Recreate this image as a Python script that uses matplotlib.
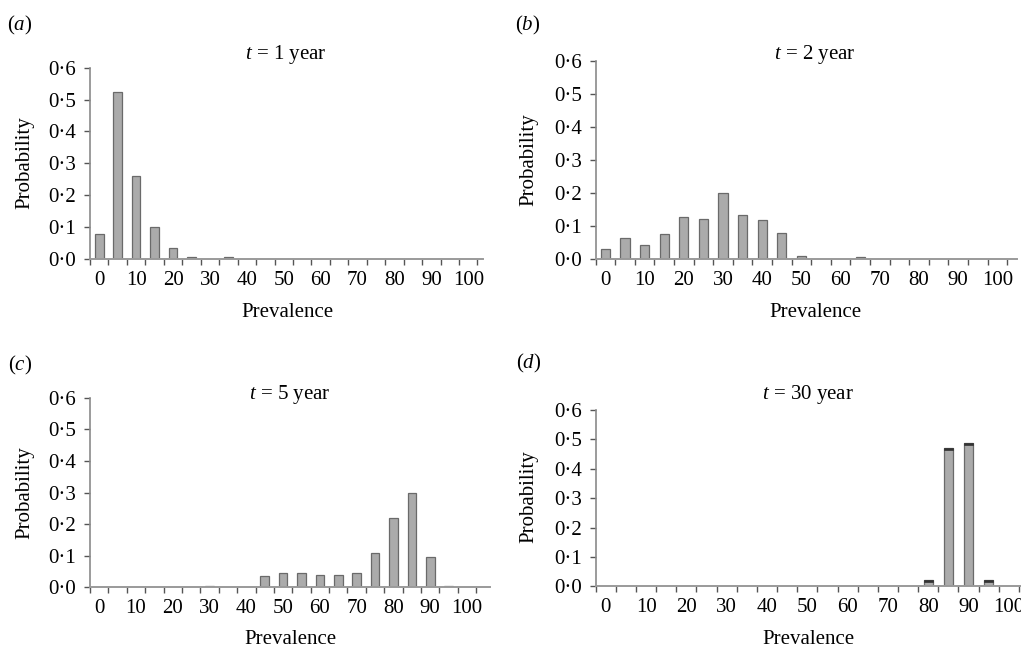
import matplotlib
matplotlib.use("Agg")
import matplotlib.pyplot as plt
import numpy as np

plt.rcParams['font.family'] = ['Liberation Serif', 'DejaVu Serif']
plt.rcParams['mathtext.fontset'] = 'custom'
plt.rcParams['mathtext.it'] = 'Liberation Serif:italic'
plt.rcParams['mathtext.rm'] = 'Liberation Serif'

prevalence = list(range(0, 105, 5))
prob_1yr = [0.077, 0.525, 0.26, 0.1, 0.033, 0.006, 0, 0.006, 0, 0, 0,
            0, 0, 0, 0, 0, 0, 0, 0, 0, 0]
prob_2yr = [0.03, 0.065, 0.043, 0.075, 0.127, 0.122, 0.2, 0.132, 0.118, 0.079, 0.01,
            0, 0, 0.005, 0, 0, 0, 0, 0, 0, 0]
prob_5yr = [0, 0, 0, 0, 0, 0, 0.005, 0, 0, 0.035, 0.045,
            0.045, 0.04, 0.04, 0.045, 0.108, 0.22, 0.3, 0.095, 0.005, 0]
prob_30yr = [0, 0, 0, 0, 0, 0, 0, 0, 0, 0, 0,
             0, 0, 0, 0, 0, 0.022, 0.47, 0.487, 0.022, 0]
yticks = [0, 0.1, 0.2, 0.3, 0.4, 0.5, 0.6]

W, H = 1021, 651
fig = plt.figure(figsize=(W / 100, H / 100), dpi=100)


def px_axes(left, top, right, bottom):
    return fig.add_axes([left / W, 1 - bottom / H, (right - left) / W, (bottom - top) / H])


# (values, label, title, axes box in px, x-limits, title pos, ylabel pos, xlabel pos, tag pos)
panels = [
    (prob_1yr, 'a', '1', (90, 67.7, 483, 259), (-0.45, 20.8), (286, 55), (25, 163), (287, 313), (20, 25)),
    (prob_2yr, 'b', '2', (595.7, 61, 1017, 259), (-0.47, 21.0), (815, 55), (529, 160), (815, 313), (528, 25)),
    (prob_5yr, 'c', '5', (90, 397.7, 490, 587.3), (-0.45, 21.25), (290, 395), (25, 493), (290, 640), (20, 365)),
    (prob_30yr, 'd', '30', (595.7, 410, 1026, 586.3), (-0.47, 20.85), (808, 395), (529, 497), (808, 640), (529, 363)),
]

for vals, tag, yr, box, xl, tpos, ylpos, xlpos, tagpos in panels:
    ax = px_axes(*box)
    x = np.arange(len(prevalence))
    v = np.array(vals)
    nz = v > 0
    ax.bar(x[nz], v[nz], width=0.47, color='#ababab', edgecolor='#6a6a6a', linewidth=0.9, zorder=2)
    if tag == 'd':
        # dark caps on top of the bars
        ax.bar(x[nz], [0.006] * int(nz.sum()), bottom=v[nz] - 0.006,
               width=0.47, color='#333333', edgecolor='#333333', linewidth=0.5, zorder=3)
    ax.set_xlim(*xl)
    ax.set_ylim(0, 0.6)
    ax.set_yticks(yticks)
    ax.set_yticklabels([f"{t:.1f}".replace('.', '·') for t in yticks])
    ax.set_xticks(x[::2])
    ax.set_xticklabels([str(p) for p in prevalence[::2]])
    ax.set_xticks(np.arange(-0.5, xl[1], 1.0), minor=True)
    ax.tick_params(axis='x', which='major', length=0, pad=8.5, labelsize=15)
    ax.tick_params(axis='x', which='minor', length=4, width=1, color='#555555', direction='out')
    ax.tick_params(axis='y', length=4, width=1, color='#555555', pad=6, labelsize=15)
    for s in ['top', 'right']:
        ax.spines[s].set_visible(False)
    ax.spines['left'].set_color('#8a8a8a')
    ax.spines['left'].set_linewidth(1.2)
    ax.spines['bottom'].set_color('#9a9a9a')
    ax.spines['bottom'].set_linewidth(1.4)
    ax.set_facecolor('none')

    fig.text(tpos[0] / W, 1 - tpos[1] / H, f"$t$ = {yr} year", ha='center', va='center', fontsize=15)
    fig.text(ylpos[0] / W, 1 - ylpos[1] / H, "Probability", ha='center', va='center',
             rotation=90, fontsize=15)
    fig.text(xlpos[0] / W, 1 - xlpos[1] / H, "Prevalence", ha='center', va='center', fontsize=15)
    fig.text(tagpos[0] / W, 1 - tagpos[1] / H, f"(${tag}$)", ha='center', va='center', fontsize=15)

fig.savefig("out.png", dpi=100)
